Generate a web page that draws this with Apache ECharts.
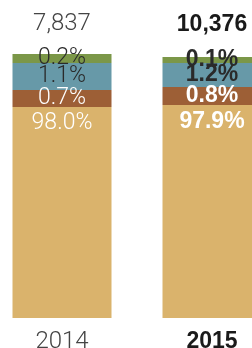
<!DOCTYPE html>
<html>
<head>
<meta charset="utf-8">
<script src="https://cdn.jsdelivr.net/npm/echarts@6/dist/echarts.min.js"></script>
<style>
  html, body { margin: 0; padding: 0; background: #fff; overflow: hidden; }
  #chart { width: 252px; height: 348px; }
</style>
</head>
<body>
<div id="chart"></div>
<script>
// categories and totals
const years = ['2014', '2015']
const totals = ['7,837', '10,376']

// shares shown in the labels (%)
const pctTan = [98.0, 97.9]
const pctBrown = [0.7, 0.8]
const pctBlue = [1.1, 1.2]
const pctGreen = [0.2, 0.1]

// band heights as drawn in the picture (the bands are not to scale)
const hTan = [211, 213]
const hBrown = [17, 18]
const hBlue = [27, 24]
const hGreen = [9, 6]

const FONT = 'Roboto'

// one stacked band
function band(name, heights, pcts, color, textColor, pos) {
    return {
        name: name,
        type: 'bar',
        stack: 'all',
        barWidth: 99,
        itemStyle: { color: color },
        label: {
            show: true,
            position: pos,
            distance: 5,
            color: textColor,
            fontFamily: FONT,
            fontSize: 23,
            formatter: p => pcts[p.dataIndex].toFixed(1) + '%'
        },
        data: heights.map((v, i) => ({
            value: v,
            label: { fontWeight: i ? 'bold' : 300, fontFamily: i ? 'Liberation Sans' : FONT }
        }))
    }
}

// axis label style shared by the year row and the totals row
function axisText(margin) {
    return {
        margin: margin,
        fontSize: 24,
        fontFamily: FONT,
        fontWeight: 300,
        color: '#444',
        formatter: (v, i) => i ? '{b|' + v + '}' : v,
        rich: { b: { fontSize: 23, fontWeight: 'bold', fontFamily: 'Liberation Sans', color: '#1a1a1a' } }
    }
}

let myChart = echarts.init(document.getElementById('chart'))

myChart.setOption({
    animation: false,
    grid: { left: -13, width: 300, top: 53, bottom: 30, outerBoundsMode: 'none', containLabel: false },
    xAxis: [{
        type: 'category',
        data: years,
        axisLine: { show: false },
        axisTick: { show: false },
        axisLabel: axisText(12)
    }, {
        type: 'category',
        position: 'top',
        data: totals,
        axisLine: { show: false },
        axisTick: { show: false },
        axisLabel: axisText(17)
    }],
    yAxis: { type: 'value', min: 0, max: 265, show: false },
    series: [
        band('tan', hTan, pctTan, '#dab36c', '#fff', 'insideTop'),
        band('brown', hBrown, pctBrown, '#9d5f36', '#fff', 'inside'),
        band('blue', hBlue, pctBlue, '#6799a8', '#2a2a2a', 'inside'),
        band('green', hGreen, pctGreen, '#7b9748', '#2a2a2a', 'inside')
    ]
})
</script>
</body>
</html>
